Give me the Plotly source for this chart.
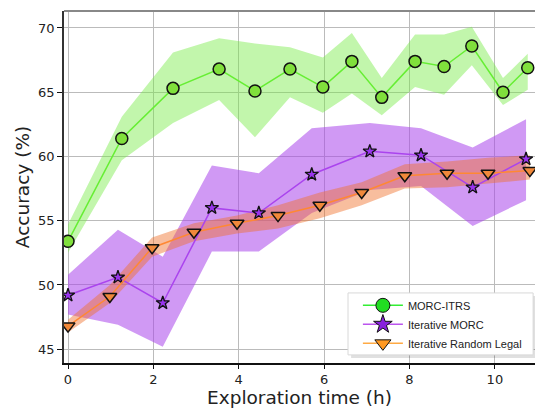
import plotly.graph_objects as go

# ---- data ----
green_x = [0.0, 1.26, 2.46, 3.54, 4.38, 5.2, 5.97, 6.65, 7.35, 8.13, 8.81, 9.46, 10.19, 10.77]
green_y = [53.4, 61.4, 65.3, 66.8, 65.1, 66.8, 65.4, 67.4, 64.6, 67.4, 67.0, 68.6, 65.0, 66.9]
green_hi = [54.7, 63.1, 68.1, 69.2, 68.8, 68.5, 67.7, 69.6, 66.1, 69.5, 69.5, 70.1, 66.1, 68.0]
green_lo = [52.5, 59.7, 62.6, 64.4, 61.5, 64.6, 63.4, 64.9, 63.2, 65.4, 64.8, 67.1, 64.0, 65.2]

purple_x = [0.0, 1.17, 2.22, 3.37, 4.47, 5.71, 7.07, 8.27, 9.48, 10.73]
purple_y = [49.2, 50.6, 48.6, 56.0, 55.6, 58.6, 60.4, 60.1, 57.6, 59.8]
purple_hi = [50.8, 54.3, 52.2, 59.3, 58.7, 62.2, 62.6, 62.2, 60.7, 62.9]
purple_lo = [47.7, 46.9, 45.2, 52.6, 52.6, 55.6, 57.4, 57.7, 54.6, 56.6]

orange_x = [0.0, 0.98, 1.97, 2.95, 3.96, 4.92, 5.9, 6.88, 7.89, 8.88, 9.84, 10.82]
orange_y = [46.8, 49.1, 52.9, 54.1, 54.8, 55.4, 56.2, 57.2, 58.5, 58.7, 58.7, 58.9]
orange_hi = [47.3, 50.0, 53.7, 54.8, 55.4, 56.2, 57.2, 58.0, 59.4, 59.6, 59.9, 60.1]
orange_lo = [46.3, 48.6, 52.2, 53.4, 54.0, 54.4, 55.2, 56.2, 57.5, 57.6, 57.9, 58.2]

names = ["MORC-ITRS", "Iterative MORC", "Iterative Random Legal"]
x_ticks = [0, 2, 4, 6, 8, 10]
y_ticks = [45, 50, 55, 60, 65, 70]

fig = go.Figure()

def band(xs, hi, lo, color):
    fig.add_trace(go.Scatter(x=xs + xs[::-1], y=hi + lo[::-1], fill="toself",
                             fillcolor=color, line=dict(width=0), mode="lines",
                             hoverinfo="skip", showlegend=False))

band(green_x, green_hi, green_lo, "rgba(120,235,70,0.45)")
band(purple_x, purple_hi, purple_lo, "rgba(170,70,235,0.55)")
band(orange_x, orange_hi, orange_lo, "rgba(240,110,40,0.45)")

fig.add_trace(go.Scatter(x=green_x, y=green_y, mode="lines+markers", showlegend=False,
                         line=dict(color="#66ee33", width=1.5),
                         marker=dict(symbol="circle", size=12, color="#80e03c",
                                     line=dict(color="#111", width=1.5))))
fig.add_trace(go.Scatter(x=purple_x, y=purple_y, mode="lines+markers", showlegend=False,
                         line=dict(color="#aa44ee", width=1.5),
                         marker=dict(symbol="star", size=10, color="#9933ee",
                                     line=dict(color="#111", width=1.3))))
fig.add_trace(go.Scatter(x=orange_x, y=orange_y, mode="lines+markers", showlegend=False,
                         line=dict(color="#ff8833", width=1.5),
                         marker=dict(symbol="triangle-down", size=12, color="#f0883a",
                                     line=dict(color="#111", width=1.5))))

# legend-only traces
leg_styles = [("#33ee33", "#22dd22", "circle"), ("#bb55ee", "#8822dd", "star"),
              ("#ffaa44", "#ff9922", "triangle-down")]
for nm, (lc, mc, sym) in zip(names, leg_styles):
    fig.add_trace(go.Scatter(x=[None], y=[None], name=nm, mode="lines+markers",
                             line=dict(color=lc, width=1.5),
                             marker=dict(symbol=sym, size=14, color=mc,
                                         line=dict(color="#111", width=1))))

# top frame line
fig.add_shape(type="line", xref="paper", yref="paper", x0=0, x1=1, y0=1, y1=1,
              line=dict(color="#888", width=2))
# legend box with shadow
fig.add_shape(type="rect", xref="paper", yref="paper", layer="above",
              x0=0.6095, x1=1.002, y0=0.0145, y1=0.1905,
              fillcolor="rgba(0,0,0,0.12)", line=dict(width=0))
fig.add_shape(type="rect", xref="paper", yref="paper", layer="above",
              x0=0.603, x1=0.996, y0=0.023, y1=0.199,
              fillcolor="white", line=dict(color="#d8d8d8", width=1))

fig.update_layout(
    width=535, height=412,
    margin=dict(l=64, r=0, t=11, b=49),
    paper_bgcolor="white", plot_bgcolor="white",
    font=dict(family="DejaVu Sans", size=13, color="#222"),
    legend=dict(x=0.624, y=0.205, xanchor="left", yanchor="top",
                bgcolor="rgba(0,0,0,0)", borderwidth=0, itemwidth=40,
                font=dict(family="Liberation Sans", size=11, color="#222"),
                tracegroupgap=0),
    xaxis=dict(range=[-0.094, 10.94], tickvals=x_ticks, ticktext=[str(t) for t in x_ticks],
               showgrid=True, gridcolor="#bbb", gridwidth=1, zeroline=False,
               showline=True, linecolor="#111", linewidth=1.5,
               ticks="outside", ticklen=4, tickcolor="#111",
               title=dict(text="Exploration time (h)", font=dict(size=18.5), standoff=4)),
    yaxis=dict(range=[43.93, 71.32], tickvals=y_ticks, ticktext=[str(t) for t in y_ticks],
               showgrid=True, gridcolor="#bbb", gridwidth=1, zeroline=False,
               showline=True, linecolor="#333", linewidth=1.5,
               ticks="outside", ticklen=5, tickcolor="#111",
               title=dict(text="Accuracy (%)", font=dict(size=18.5), standoff=4)),
)

fig.write_html("out.html")
